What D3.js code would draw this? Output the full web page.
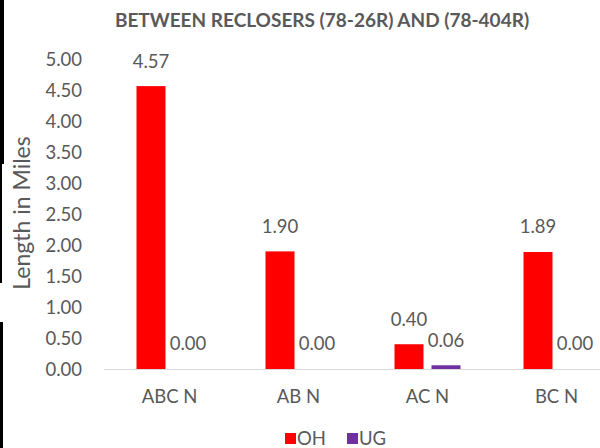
<!DOCTYPE html>
<html>
<head>
<meta charset="utf-8">
<script src="https://cdn.jsdelivr.net/npm/d3@7"></script>
<style>
  html, body { margin: 0; padding: 0; background: #fff; }
  svg { display: block; }
  text { font-family: "Lato", "Open Sans", sans-serif; fill: #595959; }
</style>
</head>
<body>
<svg id="chart" width="600" height="448"></svg>
<script>
// Circuit lengths by phase configuration
const categories = ["ABC N", "AB N", "AC N", "BC N"];
const seriesNames = ["OH", "UG"];
const ohValues = [4.57, 1.90, 0.40, 1.89];
const ugValues = [0.00, 0.00, 0.06, 0.00];
const yTicks = [0, 0.5, 1, 1.5, 2, 2.5, 3, 3.5, 4, 4.5, 5];
const seriesColors = ["#FF0000", "#7030A0"];
const titleText = "BETWEEN RECLOSERS (78-26R) AND (78-404R)";
const yTitle = "Length in Miles";

const FONT = "Lato, 'Open Sans', sans-serif";
const svg = d3.select("#chart");
svg.append("rect").attr("width", 600).attr("height", 448).attr("fill", "#fff");

const x = d3.scaleBand().domain(categories).range([105, 621]).padding(0);
const y = d3.scaleLinear().domain([0, 5]).range([369, 59.5]);
const sub = d3.scaleBand().domain(seriesNames).range([-33, 33]).paddingInner(8 / 37).paddingOuter(0);
const color = d3.scaleOrdinal().domain(seriesNames).range(seriesColors);

// Title
svg.append("text")
  .attr("x", 322).attr("y", 20).attr("dy", "0.35em")
  .attr("text-anchor", "middle")
  .attr("font-size", 19).attr("font-weight", "bold")
  .text(titleText);

// Value axis (labels only)
const yAxis = d3.axisLeft(y).tickValues(yTicks).tickFormat(d3.format(".2f")).tickSize(0).tickPadding(0);
const gy = svg.append("g").attr("transform", "translate(82,0)").call(yAxis);
gy.select(".domain").remove();
gy.selectAll("text").attr("font-size", 18.5).attr("fill", "#595959")
  .style("font-family", FONT).attr("dy", "0.35em");

// Axis title
svg.append("text")
  .attr("transform", "translate(22,213) rotate(-90)")
  .attr("dy", "0.35em")
  .attr("text-anchor", "middle")
  .attr("font-size", 23)
  .text(yTitle);

// Bars
const rows = categories.map((c, i) => ({ cat: c, vals: [
  { s: "OH", v: ohValues[i] }, { s: "UG", v: ugValues[i] } ] }));

const groups = svg.append("g").selectAll("g").data(rows).join("g")
  .attr("transform", d => `translate(${x(d.cat) + x.bandwidth() / 2},0)`);

groups.selectAll("rect").data(d => d.vals).join("rect")
  .attr("x", d => sub(d.s))
  .attr("width", sub.bandwidth())
  .attr("y", d => y(d.v))
  .attr("height", d => y(0) - y(d.v))
  .attr("fill", d => color(d.s));

groups.selectAll("text.lbl").data(d => d.vals).join("text")
  .attr("class", "lbl")
  .attr("x", d => sub(d.s) + sub.bandwidth() / 2)
  .attr("y", d => y(d.v) - 25)
  .attr("dy", "0.35em")
  .attr("text-anchor", "middle")
  .attr("font-size", 18.5)
  .text(d => d3.format(".2f")(d.v));

// Category axis
const xAxis = d3.axisBottom(x).tickSize(0).tickPadding(0);
const gx = svg.append("g").attr("transform", "translate(0,369)").call(xAxis);
gx.select(".domain").attr("stroke", "#D9D9D9").attr("d", "M104,0.5H600");
gx.selectAll("text").attr("font-size", 18.5).attr("fill", "#595959")
  .style("font-family", FONT).attr("y", 28).attr("dy", "0.35em");

// Legend
const legend = svg.append("g").attr("transform", "translate(285,0)");
const legendItems = legend.selectAll("g").data(seriesNames).join("g")
  .attr("transform", (d, i) => `translate(${i * 62},0)`);
legendItems.append("rect").attr("x", 0).attr("y", 433).attr("width", 11).attr("height", 11)
  .attr("fill", d => color(d));
legendItems.append("text").attr("x", 12).attr("y", 438.5).attr("dy", "0.35em")
  .attr("font-size", 18.5).text(d => d);

// Dark strip along the left edge
svg.append("rect").attr("x", 0).attr("y", 0).attr("width", 4).attr("height", 164).attr("fill", "#000");
svg.append("rect").attr("x", 0).attr("y", 164).attr("width", 2).attr("height", 119).attr("fill", "#000");
svg.append("rect").attr("x", 0).attr("y", 322).attr("width", 3).attr("height", 126).attr("fill", "#000");
</script>
</body>
</html>
